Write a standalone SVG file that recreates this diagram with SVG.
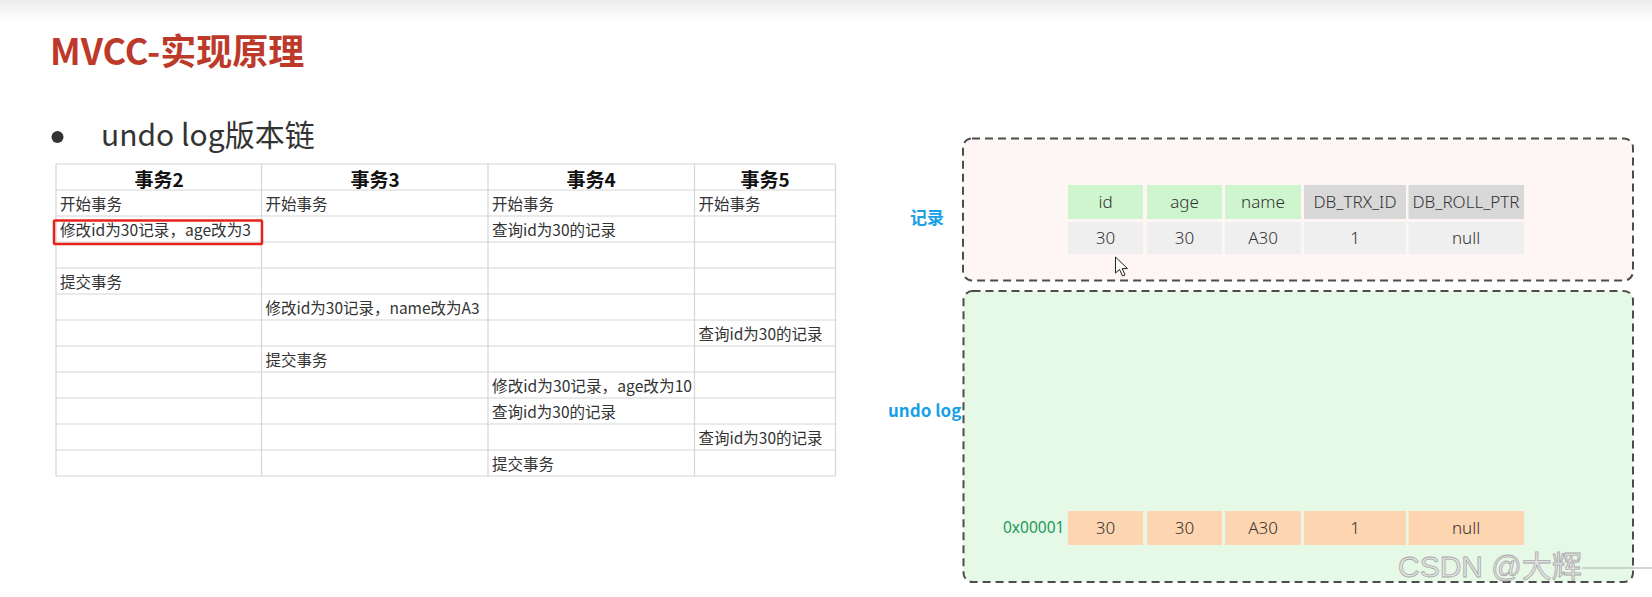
<svg xmlns="http://www.w3.org/2000/svg" width="1652" height="597" viewBox="0 0 1652 597">
<defs>
<linearGradient id="topband" x1="0" y1="0" x2="0" y2="1">
<stop offset="0" stop-color="#ececec"/>
<stop offset="1" stop-color="#ffffff"/>
</linearGradient>
</defs>
<style>
.cjk{font-family:"Noto Sans CJK SC","Noto Sans",sans-serif}
.grid{stroke:#d6d6d6;stroke-width:1.2;fill:none}
.hd{font-family:"Noto Sans CJK SC",sans-serif;font-weight:700;font-size:19px;fill:#111;text-anchor:middle}
.cell{font-family:"Noto Sans CJK SC",sans-serif;font-size:15.5px;fill:#333}
.box{stroke:#4d4d4d;stroke-width:2;stroke-dasharray:8 5}
.v{font-family:"Noto Sans","Noto Sans CJK SC",sans-serif;font-weight:300;font-size:17px;fill:#333;text-anchor:middle}
.lbl{font-family:"Noto Sans CJK SC","Noto Sans",sans-serif;font-weight:700;font-size:17px;fill:#18a0e6}
.g{fill:#cff5cf}.gr{fill:#d8d8d8}.d{fill:#efefef}.p{fill:#fdd5b0}
</style>
<rect x="0" y="0" width="1652" height="597" fill="#ffffff"/>
<rect x="0" y="0" width="1652" height="22" fill="url(#topband)"/>

<g id="title">
<text x="50" y="65" class="cjk" font-size="36" font-weight="700" fill="#bd3a2b">MVCC-实现原理</text>
</g>
<g id="subtitle">
<circle cx="57.5" cy="137" r="6" fill="#333"/>
<text x="101" y="146" class="cjk" font-size="30" fill="#333">undo log版本链</text>
</g>

<g id="transaction-table">
<path class="grid" d="M56 164H835.5M56 190H835.5M56 216H835.5M56 242H835.5M56 268H835.5M56 294H835.5M56 320H835.5M56 346H835.5M56 372H835.5M56 398H835.5M56 424H835.5M56 450H835.5M56 476H835.5"/>
<path class="grid" stroke-width="1.6" d="M56 164V476M261.5 164V476M488 164V476M694.5 164V476M835.5 164V476"/>
<text class="hd" x="159" y="187">事务2</text>
<text class="hd" x="375" y="187">事务3</text>
<text class="hd" x="591" y="187">事务4</text>
<text class="hd" x="765" y="187">事务5</text>
<text class="cell" x="60" y="210">开始事务</text>
<text class="cell" x="265.5" y="210">开始事务</text>
<text class="cell" x="492" y="210">开始事务</text>
<text class="cell" x="698.5" y="210">开始事务</text>
<text class="cell" x="60" y="236" textLength="191" lengthAdjust="spacingAndGlyphs">修改id为30记录，age改为3</text>
<text class="cell" x="492" y="236">查询id为30的记录</text>
<text class="cell" x="60" y="288">提交事务</text>
<text class="cell" x="265.5" y="314" textLength="214" lengthAdjust="spacingAndGlyphs">修改id为30记录，name改为A3</text>
<text class="cell" x="698.5" y="340">查询id为30的记录</text>
<text class="cell" x="265.5" y="366">提交事务</text>
<text class="cell" x="492" y="392" textLength="200" lengthAdjust="spacingAndGlyphs">修改id为30记录，age改为10</text>
<text class="cell" x="492" y="418">查询id为30的记录</text>
<text class="cell" x="698.5" y="444">查询id为30的记录</text>
<text class="cell" x="492" y="470">提交事务</text>
<rect x="54" y="220.5" width="208" height="23.5" rx="1" fill="none" stroke="#e8221a" stroke-width="2.5"/>
</g>

<g id="record-box">
<rect class="box" x="963" y="138.5" width="670" height="142" rx="9" fill="#fdf6f4"/>
<text class="lbl" x="910" y="224" font-size="18">记录</text>
<rect class="g" x="1068" y="185" width="75" height="34"/>
<rect class="g" x="1147" y="185" width="75" height="34"/>
<rect class="g" x="1225" y="185" width="76" height="34"/>
<rect class="gr" x="1304" y="185" width="102" height="34"/>
<rect class="gr" x="1408.5" y="185" width="115.5" height="34"/>
<rect class="d" x="1068" y="222" width="75" height="32"/>
<rect class="d" x="1147" y="222" width="75" height="32"/>
<rect class="d" x="1225" y="222" width="76" height="32"/>
<rect class="d" x="1304" y="222" width="102" height="32"/>
<rect class="d" x="1408.5" y="222" width="115.5" height="32"/>
<text class="v" x="1105.5" y="208">id</text>
<text class="v" x="1184.5" y="208">age</text>
<text class="v" x="1263" y="208">name</text>
<text class="v" x="1355" y="208">DB_TRX_ID</text>
<text class="v" x="1466" y="208">DB_ROLL_PTR</text>
<text class="v" x="1105.5" y="244">30</text>
<text class="v" x="1184.5" y="244">30</text>
<text class="v" x="1263" y="244">A30</text>
<text class="v" x="1355" y="244">1</text>
<text class="v" x="1466" y="244">null</text>
<path d="M1115.5 257V273L1119.5 269.5L1122.5 276L1125 275L1122.2 268.6H1127.5Z" fill="#fff" stroke="#222" stroke-width="1" stroke-linejoin="round"/>
</g>

<g id="undo-log-box">
<rect class="box" x="963.5" y="291" width="669.5" height="291" rx="9" fill="#e6f8e6"/>
<text class="lbl" x="888" y="417">undo log</text>
<text x="1003" y="533" font-family="'Noto Sans',sans-serif" font-size="15.5" fill="#1a9a5c">0x00001</text>
<rect class="p" x="1068" y="511" width="75" height="34"/>
<rect class="p" x="1147" y="511" width="75" height="34"/>
<rect class="p" x="1225" y="511" width="76" height="34"/>
<rect class="p" x="1304" y="511" width="102" height="34"/>
<rect class="p" x="1408.5" y="511" width="115.5" height="34"/>
<text class="v" x="1105.5" y="534">30</text>
<text class="v" x="1184.5" y="534">30</text>
<text class="v" x="1263" y="534">A30</text>
<text class="v" x="1355" y="534">1</text>
<text class="v" x="1466" y="534">null</text>
</g>

<g id="connectors"/>

<g id="watermark">
<text x="1398" y="577" font-family="'Liberation Sans','Noto Sans CJK SC',sans-serif" font-size="30" fill="#e4e4e4" stroke="#a8a8a8" stroke-width="0.8">CSDN @大辉</text>
<line x1="1582" y1="568" x2="1652" y2="568" stroke="#b0b0b0" stroke-width="1.2"/>
</g>
</svg>
